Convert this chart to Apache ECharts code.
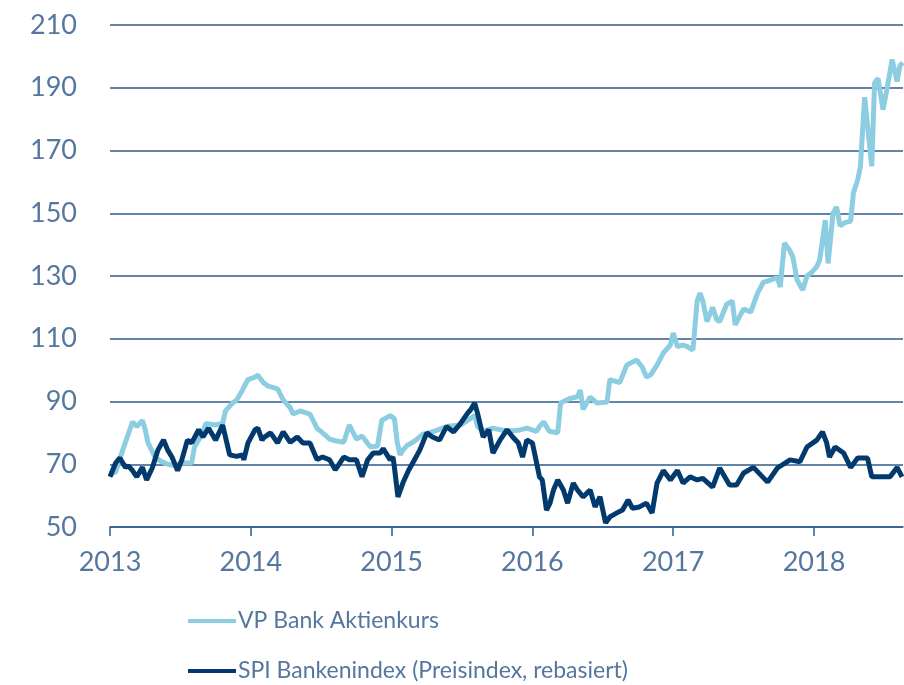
<!DOCTYPE html>
<html>
<head>
<meta charset="utf-8">
<script src="https://cdn.jsdelivr.net/npm/echarts@6/dist/echarts.min.js"></script>
<style>
  html, body { margin: 0; padding: 0; background: #fff; }
  #chart { width: 904px; height: 685px; }
</style>
</head>
<body>
<div id="chart"></div>
<script>
// x = decimal year, y = index value (rebased)
var yearTicks = [2013, 2014, 2015, 2016, 2017, 2018];
var seriesNames = ['VP Bank Aktienkurs', 'SPI Bankenindex (Preisindex, rebasiert)'];

var vpBank = [
  [2013.00, 67], [2013.04, 67.5], [2013.09, 74.5], [2013.16, 83.5], [2013.19, 82], [2013.23, 84],
  [2013.25, 81], [2013.27, 76.8], [2013.32, 72.3], [2013.36, 71], [2013.41, 70], [2013.47, 69.5],
  [2013.51, 70.5], [2013.58, 70.4], [2013.60, 75.5], [2013.66, 80], [2013.68, 83], [2013.75, 82.5],
  [2013.80, 83], [2013.82, 87], [2013.87, 89.5], [2013.90, 90.5], [2013.94, 93.6], [2013.98, 97],
  [2014.03, 97.8], [2014.05, 98.4], [2014.09, 96], [2014.12, 95], [2014.19, 94], [2014.23, 90.5],
  [2014.28, 88], [2014.30, 86], [2014.35, 87], [2014.42, 86], [2014.47, 81.5], [2014.51, 80],
  [2014.56, 78], [2014.60, 77.5], [2014.66, 77], [2014.70, 82.5], [2014.75, 78], [2014.79, 79],
  [2014.85, 75.5], [2014.90, 75.8], [2014.93, 84], [2014.99, 85.5], [2015.02, 84.5], [2015.04, 77],
  [2015.06, 73], [2015.08, 74.5], [2015.11, 76], [2015.15, 77], [2015.18, 78], [2015.22, 79.5],
  [2015.30, 80.5], [2015.39, 82], [2015.49, 82.5], [2015.54, 84], [2015.59, 85.5], [2015.61, 82],
  [2015.65, 80.5], [2015.72, 81.5], [2015.82, 80.5], [2015.90, 80.8], [2015.96, 81.5], [2016.03, 80.5],
  [2016.05, 82], [2016.08, 83.5], [2016.12, 80.5], [2016.18, 80], [2016.20, 89.5], [2016.22, 90],
  [2016.27, 91], [2016.32, 91.5], [2016.34, 93.6], [2016.36, 87.5], [2016.41, 91.4], [2016.46, 89.5],
  [2016.53, 89.8], [2016.55, 97], [2016.62, 96], [2016.67, 101.6], [2016.74, 103.2], [2016.78, 101],
  [2016.81, 97.8], [2016.84, 98.5], [2016.89, 102], [2016.93, 105.5], [2016.98, 108], [2017.00, 111.8],
  [2017.03, 107.5], [2017.07, 108], [2017.10, 107.5], [2017.14, 106.4], [2017.17, 122], [2017.19, 124.6],
  [2017.21, 122], [2017.24, 115.5], [2017.28, 120], [2017.31, 116], [2017.33, 115.5], [2017.38, 121],
  [2017.42, 122], [2017.44, 114.4], [2017.50, 119.5], [2017.55, 118.5], [2017.60, 124.6], [2017.64, 128],
  [2017.69, 128.7], [2017.74, 129.5], [2017.76, 126.5], [2017.79, 140.5], [2017.83, 138], [2017.85, 136],
  [2017.88, 128.7], [2017.92, 125.5], [2017.95, 130], [2017.98, 131], [2018.02, 133], [2018.04, 135],
  [2018.08, 147.8], [2018.10, 134], [2018.135, 150], [2018.16, 152], [2018.185, 146], [2018.22, 147],
  [2018.26, 147.5], [2018.28, 156.5], [2018.31, 160.6], [2018.33, 165], [2018.34, 173], [2018.36, 187],
  [2018.38, 178], [2018.41, 165], [2018.43, 191.5], [2018.455, 193], [2018.49, 183], [2018.52, 190],
  [2018.555, 199], [2018.59, 192], [2018.61, 197], [2018.63, 198]
];

var spiBanken = [
  [2013.00, 66], [2013.04, 70.4], [2013.07, 72], [2013.11, 69], [2013.13, 69.5], [2013.16, 68],
  [2013.19, 66], [2013.23, 69], [2013.26, 65], [2013.30, 68.8], [2013.34, 74.5], [2013.38, 77.7],
  [2013.41, 74.5], [2013.44, 72.3], [2013.48, 68], [2013.51, 71.4], [2013.55, 77.7], [2013.58, 76.8],
  [2013.63, 81], [2013.66, 78.7], [2013.70, 81.5], [2013.75, 77.7], [2013.80, 82.5], [2013.83, 76.8],
  [2013.85, 73], [2013.90, 72.5], [2013.94, 73], [2013.95, 71.4], [2013.98, 76.8], [2014.03, 81],
  [2014.05, 81.5], [2014.08, 77.7], [2014.09, 78.4], [2014.14, 80], [2014.19, 76.8], [2014.23, 80.3],
  [2014.28, 77], [2014.33, 78.7], [2014.37, 76.8], [2014.42, 76.8], [2014.47, 71.5], [2014.51, 72.3],
  [2014.56, 71.4], [2014.60, 68.2], [2014.66, 72.3], [2014.70, 71.4], [2014.75, 71.4], [2014.79, 66],
  [2014.83, 71.4], [2014.87, 73.6], [2014.92, 73.6], [2014.94, 75], [2014.99, 71.4], [2015.01, 72.3],
  [2015.02, 69], [2015.045, 59.6], [2015.08, 64], [2015.12, 68], [2015.15, 70.4], [2015.20, 74.5],
  [2015.25, 80], [2015.29, 78.7], [2015.34, 77.7], [2015.39, 82], [2015.44, 80.3], [2015.49, 83],
  [2015.54, 86.3], [2015.56, 87.3], [2015.59, 89.5], [2015.61, 86.3], [2015.65, 78.7], [2015.69, 81],
  [2015.72, 73.6], [2015.77, 77.7], [2015.82, 81], [2015.86, 78.7], [2015.90, 76.8], [2015.93, 72.3],
  [2015.96, 77.7], [2016.00, 76.8], [2016.03, 70.4], [2016.05, 66], [2016.07, 65], [2016.10, 55.4],
  [2016.125, 57.6], [2016.15, 61.8], [2016.18, 65], [2016.22, 61.8], [2016.25, 57.6], [2016.29, 64],
  [2016.32, 61.8], [2016.36, 59.6], [2016.41, 61.8], [2016.445, 56.4], [2016.48, 59.6], [2016.52, 51.3],
  [2016.55, 53.2], [2016.60, 54.5], [2016.64, 55.4], [2016.68, 58.6], [2016.71, 56], [2016.76, 56.4],
  [2016.81, 57.6], [2016.85, 54.5], [2016.885, 64], [2016.93, 68], [2016.98, 65], [2017.03, 68],
  [2017.07, 64], [2017.12, 66], [2017.17, 65], [2017.21, 65.5], [2017.28, 62.7], [2017.33, 68.8],
  [2017.40, 63.4], [2017.45, 63.4], [2017.50, 67.2], [2017.57, 69], [2017.67, 64.3], [2017.74, 68.8],
  [2017.83, 71.4], [2017.90, 70.8], [2017.95, 75.5], [2018.02, 77.7], [2018.06, 80.3], [2018.09, 76.8],
  [2018.11, 72.3], [2018.15, 75.5], [2018.21, 73.6], [2018.26, 69], [2018.31, 72], [2018.38, 72],
  [2018.41, 66], [2018.47, 66], [2018.54, 66], [2018.59, 69], [2018.625, 66]
];

var colors = ['#8ccde2', '#033a6e'];
var gridColor = '#2f5b8d';
var labelColor = '#55779f';

var legendText = { color: labelColor, fontSize: 23, lineHeight: 28, padding: [0, 0, 0, -3] };

var chart = echarts.init(document.getElementById('chart'));
chart.setOption({
  animation: false,
  textStyle: { fontFamily: 'Lato, "Open Sans", sans-serif' },
  grid: { left: 110, right: 1, top: 25, bottom: 158 },
  legend: [
    {
      left: 183, top: 602, itemWidth: 48, itemHeight: 4, icon: 'rect',
      data: [seriesNames[0]], textStyle: legendText
    },
    {
      left: 183, top: 652, itemWidth: 48, itemHeight: 4, icon: 'rect',
      data: [seriesNames[1]], textStyle: legendText
    }
  ],
  xAxis: {
    type: 'value',
    min: 2013,
    max: 2018.632,
    interval: 1,
    splitLine: { show: false },
    axisLine: { show: true, lineStyle: { color: gridColor, width: 1.5 } },
    axisTick: { show: true, length: 9, customValues: yearTicks, lineStyle: { color: gridColor, width: 1.5 } },
    axisLabel: {
      customValues: yearTicks,
      color: labelColor,
      fontSize: 27,
      margin: 22,
      formatter: function (v) { return String(v); }
    }
  },
  yAxis: {
    type: 'value',
    min: 50,
    max: 210,
    interval: 20,
    axisLine: { show: false },
    axisTick: { show: false },
    splitLine: { lineStyle: { color: gridColor, width: 1.5 } },
    axisLabel: { color: labelColor, fontSize: 27, margin: 33 }
  },
  series: [
    {
      name: seriesNames[0],
      type: 'line',
      data: vpBank,
      showSymbol: false,
      color: colors[0],
      lineStyle: { width: 5, color: colors[0] }
    },
    {
      name: seriesNames[1],
      type: 'line',
      data: spiBanken,
      showSymbol: false,
      color: colors[1],
      lineStyle: { width: 5, color: colors[1] }
    }
  ]
});
</script>
</body>
</html>
